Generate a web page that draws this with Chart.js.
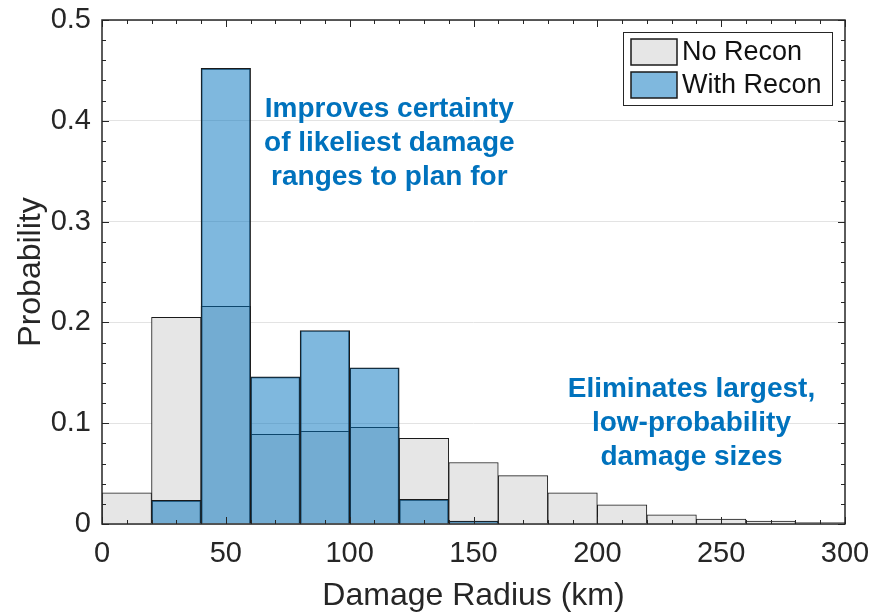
<!DOCTYPE html>
<html>
<head>
<meta charset="utf-8">
<script src="https://cdn.jsdelivr.net/npm/chart.js@4.4.1/dist/chart.umd.min.js"></script>
<style>
  html, body { margin: 0; padding: 0; background: #fff; }
  #wrap { width: 873px; height: 613px; position: relative; }
</style>
</head>
<body>
<div id="wrap"><canvas id="histChart"></canvas></div>
<script>
// histogram bins (left edge, km), each 20 km wide
const binStarts = [0, 20, 40, 60, 80, 100, 120, 140, 160, 180, 200, 220, 240, 260, 280];
const binWidth = 20;
const noRecon = [0.031, 0.205, 0.216, 0.089, 0.092, 0.096, 0.085, 0.061, 0.048, 0.031, 0.019, 0.009, 0.005, 0.003, 0.0015];
const withRecon = [null, 0.0235, 0.452, 0.146, 0.192, 0.155, 0.0245, 0.003, null, null, null, null, null, null, null];
const xTicks = [0, 50, 100, 150, 200, 250, 300];
const yTicks = [0, 0.1, 0.2, 0.3, 0.4, 0.5];
const yTickLabels = ['0', '0.1', '0.2', '0.3', '0.4', '0.5'];

const FONT = "'Liberation Sans', Arial, Helvetica, sans-serif";
const INK = '#262626';

function toPoints(vals) {
    return binStarts.map((s, i) => ({ x: s + binWidth / 2, y: vals[i] }));
}

// text callouts, anchored in data units (first line baseline)
const notes = [
    { x: 116, y: 0.404, lines: ['Improves certainty', 'of likeliest damage', 'ranges to plan for'] },
    { x: 238, y: 0.126, lines: ['Eliminates largest,', 'low-probability', 'damage sizes'] }
];

// matlab-like box, inward ticks, callouts and legend
const frame = {
    id: 'frame',
    afterDatasetsDraw(chart) {
        const { ctx, chartArea: a, scales: { x, y } } = chart;
        ctx.save();
        ctx.strokeStyle = INK;
        ctx.lineWidth = 1;
        ctx.beginPath();
        for (let v = 0; v <= 300; v += 10) {
            const px = Math.round(x.getPixelForValue(v)) + 0.5;
            const len = v % 50 === 0 ? 7 : 4;
            ctx.moveTo(px, a.bottom); ctx.lineTo(px, a.bottom - len);
            ctx.moveTo(px, a.top); ctx.lineTo(px, a.top + len);
        }
        for (let k = 0; k <= 25; k++) {
            const py = Math.round(y.getPixelForValue(k * 0.02)) + 0.5;
            const len = k % 5 === 0 ? 7 : 4;
            ctx.moveTo(a.left, py); ctx.lineTo(a.left + len, py);
            ctx.moveTo(a.right, py); ctx.lineTo(a.right - len, py);
        }
        ctx.stroke();
        ctx.lineWidth = 1.5;
        ctx.strokeRect(a.left, a.top, a.right - a.left, a.bottom - a.top);

        // callouts
        ctx.fillStyle = '#0072BD';
        ctx.font = 'bold 28px ' + FONT;
        ctx.textAlign = 'center';
        ctx.textBaseline = 'alphabetic';
        notes.forEach(n => {
            const cx = x.getPixelForValue(n.x);
            const cy = y.getPixelForValue(n.y);
            n.lines.forEach((t, i) => ctx.fillText(t, cx, cy + i * 34));
        });

        // legend box in the upper right corner
        const lw = 209, lh = 73;
        const lx = a.right - 13 - lw, ly = a.top + 12;
        ctx.fillStyle = '#fff';
        ctx.fillRect(lx, ly, lw, lh);
        ctx.lineWidth = 1;
        ctx.strokeStyle = INK;
        ctx.strokeRect(lx + 0.5, ly + 0.5, lw, lh);
        ctx.font = '27px ' + FONT;
        ctx.textAlign = 'left';
        ctx.textBaseline = 'middle';
        chart.data.datasets.forEach((ds, i) => {
            const ry = ly + 7 + i * 33;
            ctx.fillStyle = '#fff';
            ctx.fillRect(lx + 8, ry, 46, 26);
            ctx.fillStyle = ds.backgroundColor;
            ctx.fillRect(lx + 8, ry, 46, 26);
            ctx.lineWidth = 1.5;
            ctx.strokeStyle = '#1a1a1a';
            ctx.strokeRect(lx + 8, ry, 46, 26);
            ctx.fillStyle = '#111';
            ctx.fillText(ds.label, lx + 59, ry + 14);
        });
        ctx.restore();
    }
};

const ctx = document.getElementById('histChart').getContext('2d');
const histChart = new Chart(ctx, {
    type: 'bar',
    data: {
        datasets: [{
            label: 'No Recon',
            data: toPoints(noRecon),
            backgroundColor: '#e6e6e6',
            borderColor: '#1a1a1a',
            borderWidth: 1,
            order: 2
        }, {
            label: 'With Recon',
            data: toPoints(withRecon),
            backgroundColor: 'rgba(0,114,189,0.5)',
            borderColor: '#1a1a1a',
            borderWidth: 1,
            order: 1
        }]
    },
    options: {
        responsive: true,
        maintainAspectRatio: false,
        animation: false,
        grouped: false,
        barPercentage: 1,
        categoryPercentage: 1,
        layout: { padding: { left: 0, right: 28, top: 20, bottom: 0 } },
        plugins: {
            legend: { display: false },
            tooltip: { enabled: false }
        },
        scales: {
            x: {
                type: 'linear',
                min: 0,
                max: 300,
                offset: false,
                afterBuildTicks: s => { s.ticks = xTicks.map(v => ({ value: v })); },
                afterFit: s => { s.height = 89; s.paddingLeft = 0; s.paddingRight = 0; },
                grid: { display: false, drawTicks: false },
                border: { display: false },
                ticks: { font: { size: 29, family: FONT }, color: INK, padding: 13, maxRotation: 0, autoSkip: false },
                title: {
                    display: true,
                    text: 'Damage Radius (km)',
                    color: INK,
                    font: { size: 32, family: FONT, lineHeight: 1 },
                    padding: { top: 0, bottom: 1 }
                }
            },
            y: {
                min: 0,
                max: 0.5,
                afterBuildTicks: s => { s.ticks = yTicks.map(v => ({ value: v })); },
                afterFit: s => { s.width = 102; s.paddingTop = 0; s.paddingBottom = 0; },
                grid: { color: '#e3e3e3', lineWidth: 1, drawTicks: false },
                border: { display: false },
                ticks: {
                    callback: v => yTickLabels[yTicks.indexOf(v)],
                    font: { size: 29, family: FONT },
                    color: INK,
                    padding: 11
                },
                title: {
                    display: true,
                    text: 'Probability',
                    color: INK,
                    font: { size: 32, family: FONT, lineHeight: 1 },
                    padding: { top: 15, bottom: 0 }
                }
            }
        }
    },
    plugins: [frame]
});
</script>
</body>
</html>
